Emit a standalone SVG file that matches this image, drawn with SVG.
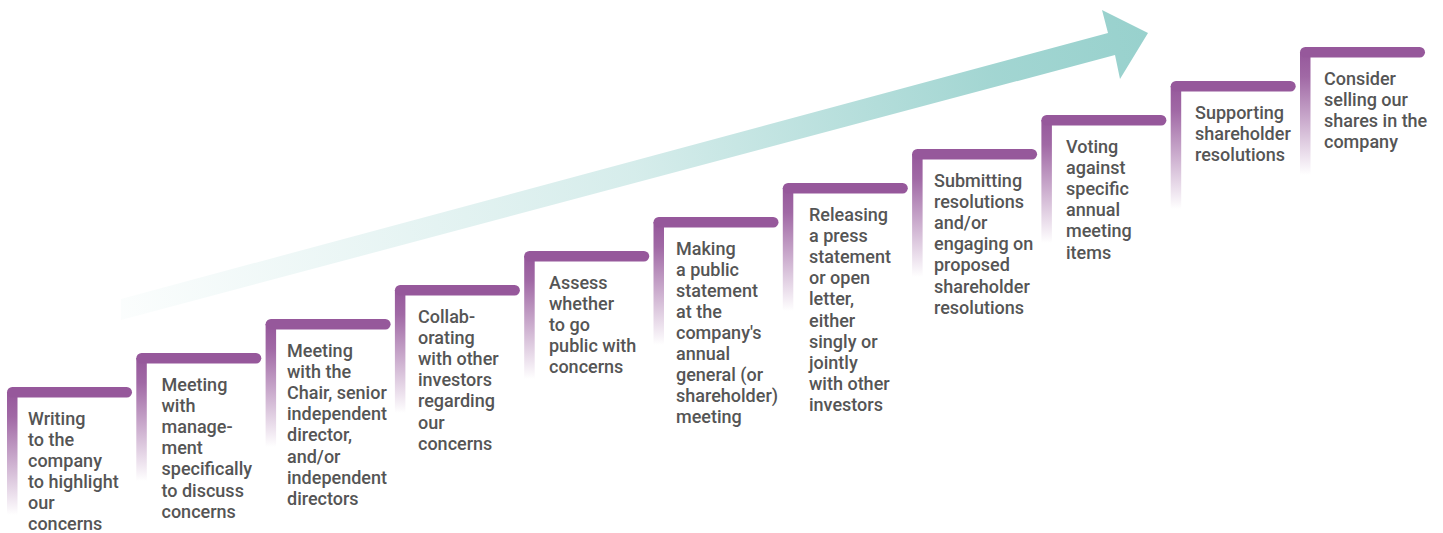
<svg xmlns="http://www.w3.org/2000/svg" width="1443" height="533" viewBox="0 0 1443 533">
<style>
.h{fill:#96589B}
.v{fill:url(#vg)}
text{font-family:Roboto,"Liberation Sans",sans-serif;font-size:18px;font-weight:500;fill:#555555}
</style>
<defs>
<linearGradient id="vg" x1="0" y1="0" x2="0" y2="1">
<stop offset="0" stop-color="#96589B" stop-opacity="1"/>
<stop offset="0.2" stop-color="#96589B" stop-opacity="0.9"/>
<stop offset="1" stop-color="#96589B" stop-opacity="0"/>
</linearGradient>
<linearGradient id="ag" gradientUnits="userSpaceOnUse" x1="121" y1="310" x2="1148" y2="33">
<stop offset="0" stop-color="#98D1CD" stop-opacity="0.04"/>
<stop offset="0.5" stop-color="#98D1CD" stop-opacity="0.4"/>
<stop offset="0.85" stop-color="#98D1CD" stop-opacity="0.9"/>
<stop offset="1" stop-color="#98D1CD" stop-opacity="1"/>
</linearGradient>
</defs>
<g id="connectors">
<polygon id="arrow" fill="url(#ag)" points="121,299 1108,33 1102,10 1148,33 1120,79 1115,55 121,320"/>
</g>
<g id="step1">
<rect class="v" x="7" y="392" width="10.5" height="123"/>
<rect class="h" x="7" y="387" width="125" height="10.5" rx="5.25"/>
<text x="28" y="425"><tspan x="28">Writing</tspan><tspan x="28" dy="21">to the</tspan><tspan x="28" dy="21">company</tspan><tspan x="28" dy="21">to highlight</tspan><tspan x="28" dy="21">our</tspan><tspan x="28" dy="21">concerns</tspan></text>
</g>
<g id="step2">
<rect class="v" x="136.3" y="358" width="10.5" height="123"/>
<rect class="h" x="136.3" y="353" width="125" height="10.5" rx="5.25"/>
<text x="161.5" y="390.5"><tspan x="161.5">Meeting</tspan><tspan x="161.5" dy="21.2">with</tspan><tspan x="161.5" dy="21.2">manage-</tspan><tspan x="161.5" dy="21.2">ment</tspan><tspan x="161.5" dy="21.2">specifically</tspan><tspan x="161.5" dy="21.2">to discuss</tspan><tspan x="161.5" dy="21.2">concerns</tspan></text>
</g>
<g id="step3">
<rect class="v" x="265.6" y="324" width="10.5" height="123"/>
<rect class="h" x="265.6" y="319" width="125" height="10.5" rx="5.25"/>
<text x="287" y="356.5"><tspan x="287">Meeting</tspan><tspan x="287" dy="21.2">with the</tspan><tspan x="287" dy="21.2">Chair, senior</tspan><tspan x="287" dy="21.2">independent</tspan><tspan x="287" dy="21.2">director,</tspan><tspan x="287" dy="21.2">and/or</tspan><tspan x="287" dy="21.2">independent</tspan><tspan x="287" dy="21.2">directors</tspan></text>
</g>
<g id="step4">
<rect class="v" x="394.9" y="290" width="10.5" height="123"/>
<rect class="h" x="394.9" y="285" width="125" height="10.5" rx="5.25"/>
<text x="418" y="322.5"><tspan x="418">Collab-</tspan><tspan x="418" dy="21.2">orating</tspan><tspan x="418" dy="21.2">with other</tspan><tspan x="418" dy="21.2">investors</tspan><tspan x="418" dy="21.2">regarding</tspan><tspan x="418" dy="21.2">our</tspan><tspan x="418" dy="21.2">concerns</tspan></text>
</g>
<g id="step5">
<rect class="v" x="524.2" y="256" width="10.5" height="123"/>
<rect class="h" x="524.2" y="251" width="125" height="10.5" rx="5.25"/>
<text x="549" y="288.5"><tspan x="549">Assess</tspan><tspan x="549" dy="21.2">whether</tspan><tspan x="549" dy="21.2">to go</tspan><tspan x="549" dy="21.2">public with</tspan><tspan x="549" dy="21.2">concerns</tspan></text>
</g>
<g id="step6">
<rect class="v" x="653.5" y="222" width="10.5" height="123"/>
<rect class="h" x="653.5" y="217" width="125" height="10.5" rx="5.25"/>
<text x="676" y="254.5"><tspan x="676">Making</tspan><tspan x="676" dy="21.1">a public</tspan><tspan x="676" dy="21.1">statement</tspan><tspan x="676" dy="21.1">at the</tspan><tspan x="676" dy="21.1">company's</tspan><tspan x="676" dy="21.1">annual</tspan><tspan x="676" dy="21.1">general (or</tspan><tspan x="676" dy="21.1">shareholder)</tspan><tspan x="676" dy="21.1">meeting</tspan></text>
</g>
<g id="step7">
<rect class="v" x="782.8" y="188" width="10.5" height="123"/>
<rect class="h" x="782.8" y="183" width="125" height="10.5" rx="5.25"/>
<text x="809" y="220.5"><tspan x="809">Releasing</tspan><tspan x="809" dy="21.2">a press</tspan><tspan x="809" dy="21.2">statement</tspan><tspan x="809" dy="21.2">or open</tspan><tspan x="809" dy="21.2">letter,</tspan><tspan x="809" dy="21.2">either</tspan><tspan x="809" dy="21.2">singly or</tspan><tspan x="809" dy="21.2">jointly</tspan><tspan x="809" dy="21.2">with other</tspan><tspan x="809" dy="21.2">investors</tspan></text>
</g>
<g id="step8">
<rect class="v" x="912.1" y="154" width="10.5" height="123"/>
<rect class="h" x="912.1" y="149" width="125" height="10.5" rx="5.25"/>
<text x="934" y="186.5"><tspan x="934">Submitting</tspan><tspan x="934" dy="21.2">resolutions</tspan><tspan x="934" dy="21.2">and/or</tspan><tspan x="934" dy="21.2">engaging on</tspan><tspan x="934" dy="21.2">proposed</tspan><tspan x="934" dy="21.2">shareholder</tspan><tspan x="934" dy="21.2">resolutions</tspan></text>
</g>
<g id="step9">
<rect class="v" x="1041.4" y="120" width="10.5" height="123"/>
<rect class="h" x="1041.4" y="115" width="125" height="10.5" rx="5.25"/>
<text x="1066" y="152.5"><tspan x="1066">Voting</tspan><tspan x="1066" dy="21.2">against</tspan><tspan x="1066" dy="21.2">specific</tspan><tspan x="1066" dy="21.2">annual</tspan><tspan x="1066" dy="21.2">meeting</tspan><tspan x="1066" dy="21.2">items</tspan></text>
</g>
<g id="step10">
<rect class="v" x="1170.7" y="86" width="10.5" height="123"/>
<rect class="h" x="1170.7" y="81" width="125" height="10.5" rx="5.25"/>
<text x="1195" y="118.5"><tspan x="1195">Supporting</tspan><tspan x="1195" dy="21.2">shareholder</tspan><tspan x="1195" dy="21.2">resolutions</tspan></text>
</g>
<g id="step11">
<rect class="v" x="1300" y="52" width="10.5" height="123"/>
<rect class="h" x="1300" y="47" width="125" height="10.5" rx="5.25"/>
<text x="1324" y="84.5"><tspan x="1324">Consider</tspan><tspan x="1324" dy="21.2">selling our</tspan><tspan x="1324" dy="21.2">shares in the</tspan><tspan x="1324" dy="21.2">company</tspan></text>
</g>
</svg>
